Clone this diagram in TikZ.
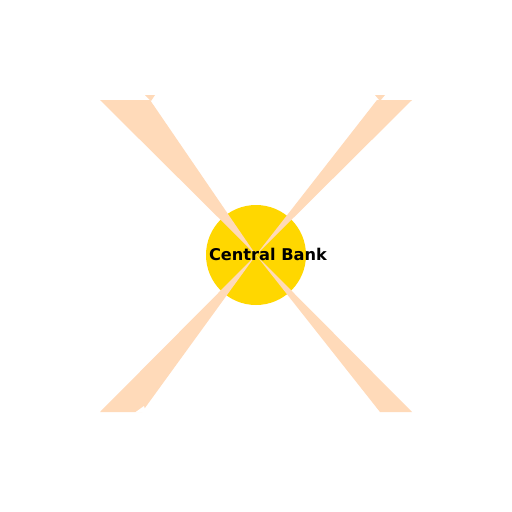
\documentclass[tikz,border=0pt]{standalone}
\usepackage{fontspec}
\setmainfont{DejaVu Sans}
\definecolor{peach}{HTML}{FFDAB9}
\definecolor{bankgold}{HTML}{FFD700}
\begin{document}
\begin{tikzpicture}[x=1pt,y=-1pt,
  wedgefill/.style={fill=peach,draw=none},
  notchfill/.style={fill=white,draw=none},
  banknode/.style={circle,fill=bankgold,draw=none,minimum size=100pt,inner sep=0pt}]
\useasboundingbox[fill=white] (0,0) rectangle (512,512);
\node[banknode] (cb) at (256,255) {};
\coordinate (c) at (256,255);
% wedge connectors
\coordinate (tl1) at (100,100); \coordinate (tl2) at (150,100);
\coordinate (tr1) at (377,100); \coordinate (tr2) at (412,100);
\coordinate (bl1) at (100,412); \coordinate (bl2) at (142,412);
\coordinate (br1) at (380,412); \coordinate (br2) at (412,412);
\fill[wedgefill] (c) -- (tl1) -- (tl2) -- cycle;
\fill[wedgefill] (c) -- (tr1) -- (tr2) -- cycle;
\fill[wedgefill] (c) -- (bl1) -- (bl2) -- cycle;
\fill[wedgefill] (c) -- (br1) -- (br2) -- cycle;
% small arrow tips
\fill[wedgefill] (145,95) -- (155,95) -- (151,101) -- cycle;
\fill[wedgefill] (375,95) -- (385,95) -- (380,101) -- cycle;
\fill[notchfill] (135,412.5) -- (146,412.5) -- (144,406) -- cycle;
\node[font=\bfseries\fontsize{16.2}{19}\selectfont,inner sep=0pt,anchor=base] (lbl) at (268,260.7) {Central Bank};
\end{tikzpicture}
\end{document}
